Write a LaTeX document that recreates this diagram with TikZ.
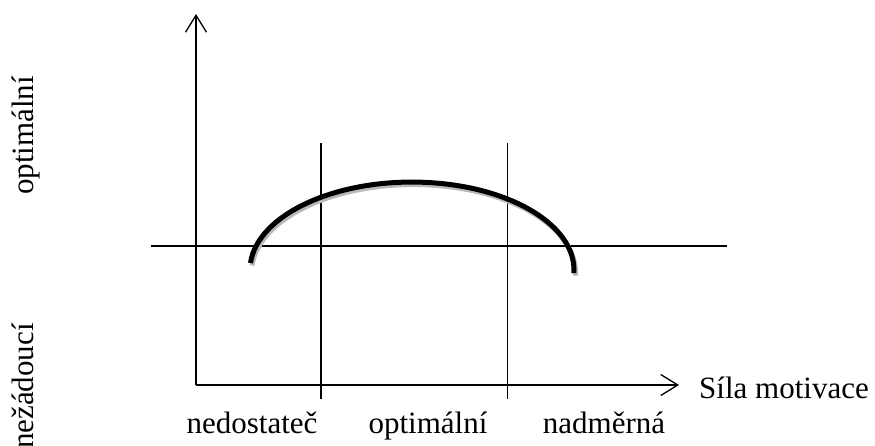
\documentclass[tikz,border=0pt]{standalone}
\usepackage{fontspec}
\setmainfont{Liberation Serif}
\usetikzlibrary{arrows.meta}
\begin{document}
\begin{tikzpicture}[x=1pt,y=1pt,
  axis/.style={line width=1.4pt,-{Straight Barb[length=17pt,width=21pt,line width=1.3pt]}},
  thin/.style={line width=1.3pt},
  lbl/.style={font=\fontsize{31}{37}\selectfont,inner sep=0pt},
  curve/.style={line width=5pt},
  shadowcurve/.style={line width=5pt,draw=gray!55}]
\useasboundingbox (0,0) rectangle (875,445);
% coordinates
\coordinate (O) at (196,60);
\coordinate (Ytop) at (196,431);
\coordinate (Xend) at (679,60);
\coordinate (HL) at (151,199);
\coordinate (HR) at (727,199);
\coordinate (V1t) at (321,302);
\coordinate (V1b) at (321,46);
\coordinate (V2t) at (507.5,302);
\coordinate (V2b) at (507.5,46);
\coordinate (Cs) at (250.5,182);
\coordinate (Css) at (252,179.5);
% lines
\draw[thin] (HL) -- (HR);
\draw[thin] (V1t) -- (V1b);
\draw[thin] (V2t) -- (V2b);
\draw[axis] (O) -- (Ytop);
\draw[axis] (O) -- (Xend);
% curve with shadow
\draw[shadowcurve] (Css) arc[start angle=175.4,end angle=-2,x radius=162,y radius=88];
\draw[curve] (Cs) arc[start angle=175.4,end angle=-2,x radius=162,y radius=88];
% labels
\node[lbl,anchor=base west] (sila) at (699,47) {Síla motivace};
\node[lbl,anchor=base] (ned) at (252,12) {nedostateč};
\node[lbl,anchor=base] (opt) at (428,12) {optimální};
\node[lbl,anchor=base] (nad) at (604,12) {nadměrná};
\node[lbl,anchor=base west,rotate=90] (yopt) at (33,250) {optimální};
\node[lbl,anchor=base east,rotate=90] (ynez) at (33,122) {nežádoucí};
\end{tikzpicture}
\end{document}
